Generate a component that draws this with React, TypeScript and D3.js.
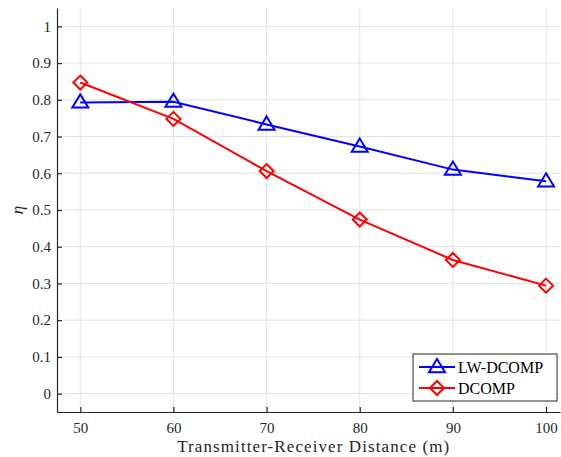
import React, { useRef, useEffect } from "react";
import * as d3 from "d3";

// Data
const distances = [50, 60, 70, 80, 90, 100];
const lwDcomp = [0.793, 0.795, 0.733, 0.673, 0.61, 0.578];
const dcomp = [0.847, 0.748, 0.606, 0.474, 0.364, 0.294];
const xTicks = [50, 60, 70, 80, 90, 100];
const yTicks = [0, 0.1, 0.2, 0.3, 0.4, 0.5, 0.6, 0.7, 0.8, 0.9, 1];

const series = [
  { name: "LW-DCOMP", values: lwDcomp, colour: "#0000ff", marker: "triangle" },
  { name: "DCOMP", values: dcomp, colour: "#ff0000", marker: "diamond" },
];

const W = 561, H = 457;
const margin = { left: 57, top: 8, right: 1, bottom: 45 };
const FONT = "'Liberation Serif', 'Times New Roman', serif";

const markerPath = (type, x, y) => {
  if (type === "triangle") {
    const s = 8;
    return `M${x},${y - s} L${x + s},${y + s * 0.65} L${x - s},${y + s * 0.65} Z`;
  }
  const s = 7;
  return `M${x},${y - s} L${x + s},${y} L${x},${y + s} L${x - s},${y} Z`;
};

const App = () => {
  const svgRef = useRef(null);

  useEffect(() => {
    const svg = d3.select(svgRef.current);
    svg.selectAll("*").remove();

    const innerW = W - margin.left - margin.right;
    const innerH = H - margin.top - margin.bottom;

    const xScale = d3.scaleLinear().domain([47.5, 101.5]).range([0, innerW]);
    const yScale = d3.scaleLinear().domain([-0.05, 1.05]).range([innerH, 0]);

    const container = svg
      .append("g")
      .attr("transform", `translate(${margin.left}, ${margin.top})`);

    // Grid
    container
      .append("g")
      .selectAll("line")
      .data(xTicks)
      .join("line")
      .attr("x1", (d) => xScale(d))
      .attr("x2", (d) => xScale(d))
      .attr("y1", 0)
      .attr("y2", innerH)
      .attr("stroke", "#e3e3e3")
      .attr("stroke-width", 1);
    container
      .append("g")
      .selectAll("line")
      .data(yTicks)
      .join("line")
      .attr("x1", 0)
      .attr("x2", innerW)
      .attr("y1", (d) => yScale(d))
      .attr("y2", (d) => yScale(d))
      .attr("stroke", "#e3e3e3")
      .attr("stroke-width", 1);

    // Axes (ticks point inwards)
    const xAxis = d3.axisBottom(xScale).tickValues(xTicks).tickSizeInner(-5).tickSizeOuter(0).tickPadding(10);
    const yAxis = d3.axisLeft(yScale).tickValues(yTicks).tickSizeInner(-5).tickSizeOuter(0).tickPadding(6)
      .tickFormat((d) => `${d}`);

    const xGroup = container
      .append("g")
      .attr("transform", `translate(0, ${innerH})`)
      .call(xAxis);
    const yGroup = container.append("g").call(yAxis);

    [xGroup, yGroup].forEach((g) => {
      g.select(".domain").attr("stroke", "#262626").attr("stroke-width", 1.2);
      g.selectAll(".tick line").attr("stroke", "#262626").attr("stroke-width", 1.2);
      g.selectAll(".tick text")
        .attr("fill", "#262626")
        .attr("font-family", FONT)
        .attr("font-size", 15);
    });

    // Lines and markers
    series.forEach((s) => {
      const line = d3
        .line()
        .x((_, i) => xScale(distances[i]))
        .y((d) => yScale(d));
      container
        .append("path")
        .datum(s.values)
        .attr("d", line)
        .attr("fill", "none")
        .attr("stroke", s.colour)
        .attr("stroke-width", 2);
      container
        .append("g")
        .selectAll("path")
        .data(s.values)
        .join("path")
        .attr("d", (d, i) => markerPath(s.marker, xScale(distances[i]), yScale(d)))
        .attr("fill", "none")
        .attr("stroke", s.colour)
        .attr("stroke-width", 2);
    });

    // Labels
    svg
      .append("text")
      .attr("x", margin.left + xScale(75))
      .attr("y", 452)
      .attr("text-anchor", "middle")
      .attr("font-family", FONT)
      .attr("font-size", 17)
      .attr("textLength", 272)
      .attr("lengthAdjust", "spacing")
      .attr("fill", "#262626")
      .text("Transmitter-Receiver Distance (m)");

    svg
      .append("text")
      .attr("transform", `translate(23, ${margin.top + yScale(0.5)}) rotate(-90)`)
      .attr("text-anchor", "middle")
      .attr("font-family", FONT)
      .attr("font-style", "italic")
      .attr("font-size", 17)
      .attr("fill", "#262626")
      .text("η");

    // Legend
    const legend = svg.append("g").attr("transform", "translate(413, 354)");
    legend
      .append("rect")
      .attr("width", 144)
      .attr("height", 47)
      .attr("fill", "white")
      .attr("stroke", "#262626")
      .attr("stroke-width", 1);
    series.forEach((s, i) => {
      const y = 13 + i * 21;
      legend
        .append("line")
        .attr("x1", 6)
        .attr("x2", 42)
        .attr("y1", y)
        .attr("y2", y)
        .attr("stroke", s.colour)
        .attr("stroke-width", 2);
      legend
        .append("path")
        .attr("d", markerPath(s.marker, 24, y))
        .attr("fill", "none")
        .attr("stroke", s.colour)
        .attr("stroke-width", 2);
      legend
        .append("text")
        .attr("x", 45)
        .attr("y", y + 5.5)
        .attr("font-family", FONT)
        .attr("font-size", 16)
        .attr("fill", "#000")
        .text(s.name);
    });
  }, []);

  return (
    <svg
      ref={svgRef}
      width={W}
      height={H}
      style={{ position: "absolute", left: 0, top: 0, display: "block", background: "white" }}
    />
  );
};

export default App;
